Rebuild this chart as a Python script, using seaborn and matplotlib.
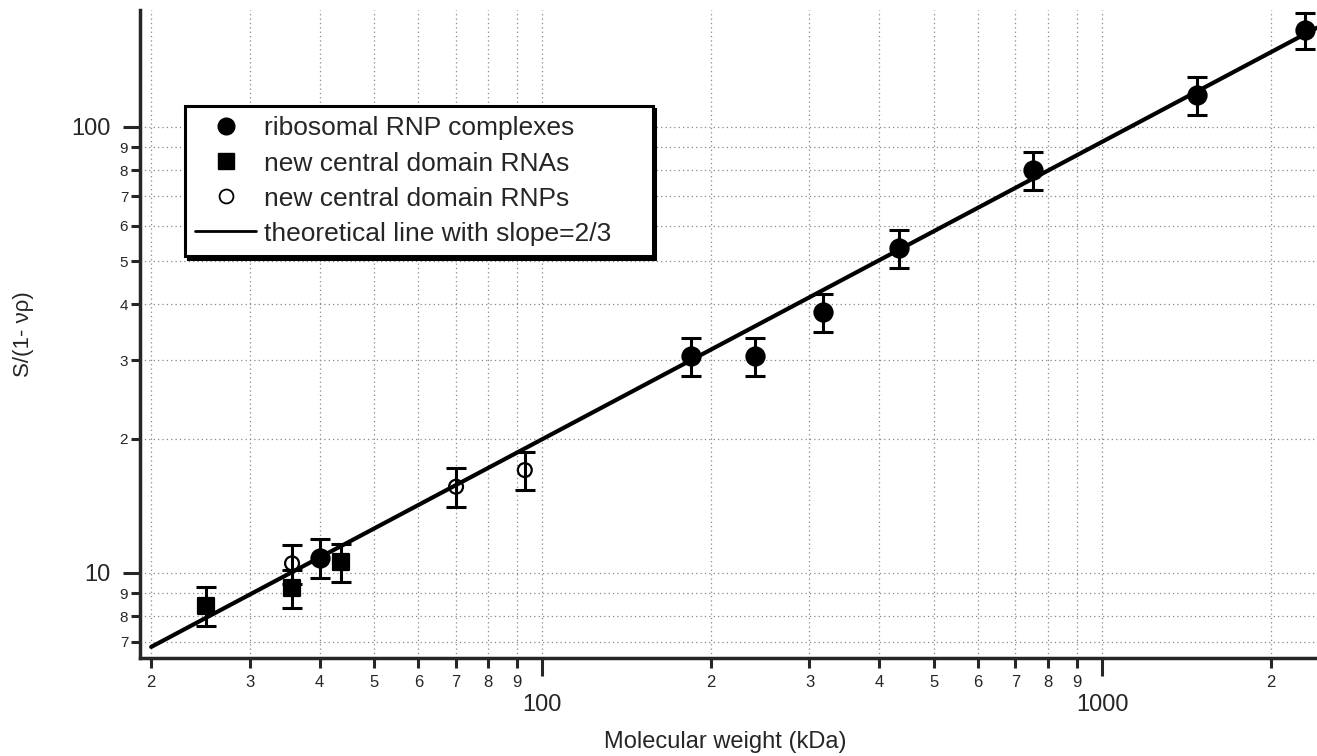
import math

import matplotlib.pyplot as plt
import matplotlib.ticker as mticker
import seaborn as sns
import pandas as pd
from matplotlib.lines import Line2D

# ===== data
ribo_mw = [40.1, 184, 240, 317, 433, 752, 1476, 2300]
ribo_s = [10.8, 30.7, 30.7, 38.5, 53.5, 80.1, 118, 165]
ribo_err = [1.08, 3.0, 3.0, 3.8, 5.2, 7.7, 11.5, 15.5]

rna_mw = [25.1, 35.7, 43.7]
rna_s = [8.44, 9.25, 10.58]
rna_err = [0.85, 0.9, 1.05]

rnp_mw = [35.7, 70.1, 93.0]
rnp_s = [10.5, 15.6, 17.0]
rnp_err = [1.05, 1.55, 1.65]

line_mw = [20, 2420]
line_s = [6.82, 167]

sns.set_style("ticks")
plt.rcParams["font.family"] = ["Liberation Sans", "DejaVu Sans"]

fig = plt.figure(figsize=(13.17, 7.56), dpi=100)
ax = fig.add_axes([0.1063, 0.1296, 0.8937, 0.8572])

ax.set_xscale("log")
ax.set_yscale("log")

groups = [
    (ribo_mw, ribo_s, ribo_err, "o", "black", 13, "ribosomal RNP complexes"),
    (rna_mw, rna_s, rna_err, "s", "black", 11.5, "new central domain RNAs"),
    (rnp_mw, rnp_s, rnp_err, "o", "none", 10, "new central domain RNPs"),
]

for mw, s, err, marker, fc, ms, label in groups:
    ax.errorbar(mw, s, yerr=err, fmt="none", ecolor="black", elinewidth=2.2,
                capsize=7, capthick=2.2, zorder=3)
    d = pd.DataFrame({"mw": mw, "s": s})
    sns.scatterplot(data=d, x="mw", y="s", marker=marker, s=ms ** 2,
                    color="black", facecolor=fc, edgecolor="black",
                    linewidth=1.6, ax=ax, zorder=4, legend=False)

sns.lineplot(x=line_mw, y=line_s, color="black", linewidth=3, ax=ax, zorder=2)

ax.set_xlim(19.1, 2420)
ax.set_ylim(6.44, 183)


# minor tick labels show only the leading digit
def lead_digit(v, pos):
    return f"{v / 10 ** math.floor(math.log10(v) + 1e-9):.0f}"


for axis in (ax.xaxis, ax.yaxis):
    axis.set_major_locator(mticker.LogLocator(base=10, numticks=10))
    axis.set_major_formatter(mticker.FuncFormatter(lambda v, p: f"{v:.0f}"))
    axis.set_minor_locator(mticker.LogLocator(base=10, subs=range(2, 10), numticks=20))
    axis.set_minor_formatter(mticker.FuncFormatter(lead_digit))

ax.tick_params(which="major", axis="x", length=13, width=2.2, labelsize=17, pad=13)
ax.tick_params(which="minor", axis="x", length=7, width=2.2, labelsize=12, pad=5)
ax.tick_params(which="major", axis="y", length=12, width=2.2, labelsize=17, pad=9)
ax.tick_params(which="minor", axis="y", length=6.5, width=2.2, labelsize=11, pad=2)

ax.grid(which="both", linestyle=(0, (1, 2.5)), color="#888888", linewidth=0.9)
ax.spines[["top", "right"]].set_visible(False)
ax.spines[["left", "bottom"]].set_linewidth(2.5)

ax.set_xlabel("Molecular weight (kDa)", fontsize=17)
ax.set_ylabel("S/(1- νρ)", fontsize=16)
ax.xaxis.set_label_coords(0.497, -0.112)
ax.yaxis.set_label_coords(-0.09, 0.5)

handles = [
    Line2D([], [], marker="o", color="black", linestyle="none", markersize=12),
    Line2D([], [], marker="s", color="black", linestyle="none", markersize=11),
    Line2D([], [], marker="o", markerfacecolor="none", markeredgecolor="black",
           linestyle="none", markersize=10, markeredgewidth=1.3),
    Line2D([], [], color="black", linewidth=2),
]
labels = [g[-1] for g in groups] + ["theoretical line with slope=2/3"]
leg = ax.legend(handles, labels, loc="upper left",
                bbox_to_anchor=(0.038, 0.852 - 0.23, 0.3976, 0.23), mode="expand",
                borderaxespad=0, fontsize=19, frameon=True, fancybox=False,
                shadow={"color": "black", "alpha": 1}, framealpha=1,
                handlelength=2.3, labelspacing=0.42, borderpad=0.4,
                handletextpad=0.3)
leg.get_frame().set_edgecolor("black")
leg.get_frame().set_linewidth(2.2)

fig.savefig("out.png", dpi=100)
